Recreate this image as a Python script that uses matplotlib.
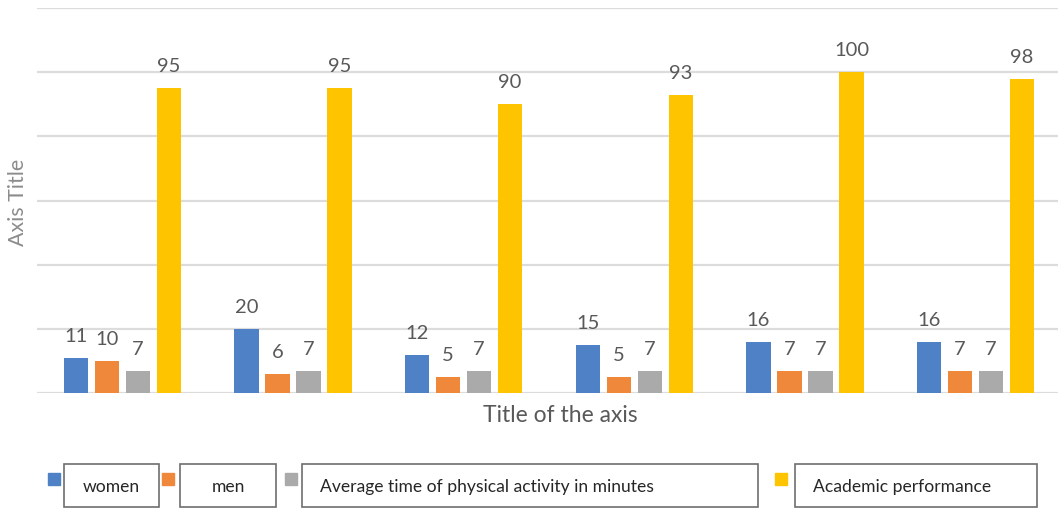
import matplotlib
matplotlib.use("Agg")
import matplotlib.pyplot as plt
from matplotlib.patches import Rectangle
import numpy as np

plt.rcParams['font.family'] = ['Lato', 'DejaVu Sans']

# Six groups, four series
groups = ["1", "2", "3", "4", "5", "6"]
series_names = ["women", "men", "Average time of physical activity in minutes",
                "Academic performance"]
women = [11, 20, 12, 15, 16, 16]
men = [10, 6, 5, 5, 7, 7]
activity = [7, 7, 7, 7, 7, 7]
academic = [95, 95, 90, 93, 100, 98]
series_values = [women, men, activity, academic]
colors = ["#4E81C5", "#F0883C", "#AAAAAA", "#FFC400"]

W, H = 1058, 508
fig = plt.figure(figsize=(W / 100, H / 100), dpi=100)
ax = fig.add_axes([37 / W, 1 - 393 / H, 1024 / W, 385 / H])

x = np.arange(len(groups))
pitch = 0.1816
width = 0.1435
label_color = "#595959"

for i, (vals, col) in enumerate(zip(series_values, colors)):
    pos = x + (i - 1.5) * pitch
    ax.bar(pos, vals, width=width, color=col, zorder=3)
    for xp, v in zip(pos, vals):
        ax.annotate(str(v), (xp, v), xytext=(0, 11.5), textcoords="offset points",
                    ha="center", va="baseline", fontsize=14.5, color=label_color)

ax.set_xlim(-0.5, len(groups) - 0.5)
ax.set_ylim(0, 120)
ax.set_yticks(np.arange(0, 121, 20))
ax.yaxis.grid(True, color="#DCDCDC", linewidth=1.6, zorder=0)
ax.set_axisbelow(True)
ax.tick_params(left=False, bottom=False, labelleft=False, labelbottom=False)
for s in ax.spines.values():
    s.set_visible(False)

fig.text(18 / W, 1 - 202 / H, "Axis Title", rotation=90, ha="center", va="center",
         fontsize=15.4, color="#8C8C8C")
fig.text(560 / W, 1 - 416 / H, "Title of the axis", ha="center", va="center",
         fontsize=16.5, color=label_color)

# Legend: colour square followed by a framed label box
legend_items = [
    (48, 64, 159),
    (162, 180, 276),
    (285, 302, 758),
    (775, 795, 1037),
]
box_top, box_bot = 464, 507
for (mx, bx0, bx1), name, col in zip(legend_items, series_names, colors):
    fig.patches.append(Rectangle((mx / W, 1 - 485 / H), 12 / W, 12 / H,
                                 transform=fig.transFigure, color=col))
    fig.patches.append(Rectangle((bx0 / W, 1 - box_bot / H), (bx1 - bx0) / W,
                                 (box_bot - box_top) / H, transform=fig.transFigure,
                                 facecolor="white", edgecolor="#6E6E6E", linewidth=1.2))
    if name in ("women", "men"):
        fig.text((bx0 + bx1) / 2 / W, 1 - 487 / H, name, ha="center", va="center",
                 fontsize=12.6, color="#262626")
    else:
        fig.text((bx0 + 18) / W, 1 - 487 / H, name, ha="left", va="center",
                 fontsize=12.6, color="#262626")

fig.savefig("out.png", dpi=100)
